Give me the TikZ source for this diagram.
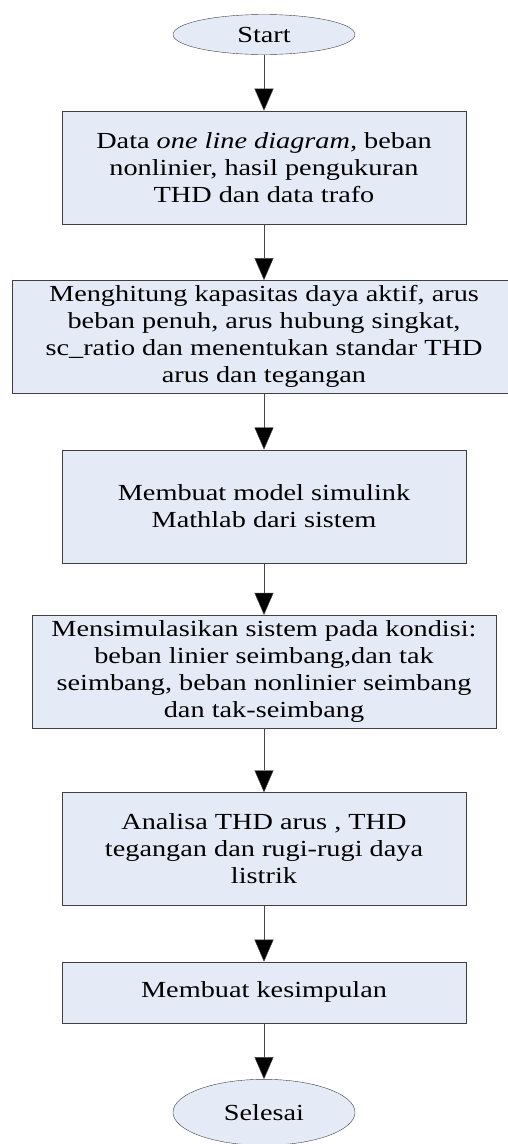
\documentclass[tikz,border=0pt]{standalone}
\usepackage{fontspec}
\setmainfont[FakeStretch=1.23]{Liberation Serif}
\usetikzlibrary{arrows.meta,positioning,shapes.geometric}
\definecolor{boxFill}{RGB}{229,235,246}
\definecolor{boxLine}{RGB}{64,64,64}
\definecolor{lineGray}{RGB}{70,70,70}

\begin{document}
\begin{tikzpicture}[
      x=1pt,y=1pt,
      terminal/.style={
         ellipse,
         draw=boxLine,
         fill=boxFill,
         inner sep=0pt,
         minimum width=182pt,
         minimum height=40pt,
         font=\fontsize{23}{27}\selectfont},
      process/.style={
         rectangle,
         draw=boxLine,
         fill=boxFill,
         align=center,
         inner sep=2pt,
         minimum width=404pt,
         minimum height=113pt,
         font=\fontsize{23}{27}\selectfont},
      myarrow/.style={draw=lineGray,-{Triangle[length=22pt,width=19pt,fill=black]}},
      node distance=56pt
      ]
      \useasboundingbox (0,0) rectangle (507,-1144);

      \node[terminal] (start) at (264,-34.5) {Start};
      \node[process,below=of start] (data)
         {Data \textit{one line diagram,} beban\\nonlinier, hasil pengukuran\\THD dan data trafo};
      \node[process,below=of data,minimum width=504pt] (hitung)
         {Menghitung kapasitas daya aktif, arus\\beban penuh, arus hubung singkat,\\sc\_ratio dan menentukan standar THD\\arus dan tegangan};
      \node[process,below=of hitung] (model)
         {Membuat model simulink\\Mathlab dari sistem};
      \node[process,below=52pt of model,minimum width=464pt] (simulasi)
         {Mensimulasikan sistem pada kondisi:\\beban linier seimbang,dan tak\\seimbang, beban nonlinier seimbang\\dan tak-seimbang};
      \node[process,below=64pt of simulasi] (analisa)
         {Analisa THD arus , THD\\tegangan dan rugi-rugi daya\\listrik};
      \node[process,below=of analisa,minimum height=61pt] (simpul)
         {Membuat kesimpulan};
      \node[terminal,below=of simpul,minimum height=66pt] (selesai) {Selesai};

    \foreach \i/\j in {% from/to
      start/data,
      data/hitung,
      hitung/model,
      model/simulasi,
      simulasi/analisa,
      analisa/simpul,
      simpul/selesai}
    \draw[myarrow] (\i) -- (\j);
\end{tikzpicture}
\end{document}
